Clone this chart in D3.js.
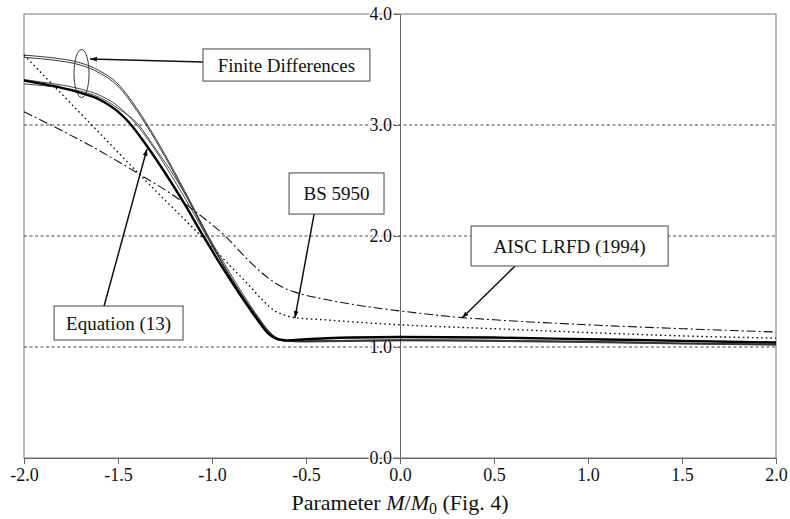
<!DOCTYPE html>
<html lang="en">
<head>
<meta charset="UTF-8">
<title>Chart</title>
<script src="https://cdn.jsdelivr.net/npm/d3@7"></script>
<style>
  body { margin: 0; background: #fff; }
  text { font-family: "Liberation Serif", "Times New Roman", serif; }
</style>
</head>
<body>
<svg id="svg" width="790" height="519"></svg>
<script>
  // tick values
  const xTicks = [-2.0, -1.5, -1.0, -0.5, 0.0, 0.5, 1.0, 1.5, 2.0];
  const yTicks = [0.0, 1.0, 2.0, 3.0, 4.0];
  const gridValues = [1.0, 2.0, 3.0];

  // series, [M/M0, value]
  const equation13 = [[-2.0,3.40],[-1.9,3.37],[-1.8,3.335],[-1.7,3.29],[-1.6,3.23],[-1.5,3.12],[-1.44,3.02],[-1.35,2.82],[-1.25,2.57],[-1.15,2.30],[-1.05,2.01],[-0.95,1.73],[-0.85,1.47],[-0.76,1.25],[-0.70,1.12],[-0.65,1.07],[-0.60,1.06],[-0.50,1.07],[-0.25,1.085],[0.0,1.09],[0.5,1.085],[1.0,1.07],[1.5,1.055],[2.0,1.04]];
  const fdTop1 = [[-2.0,3.63],[-1.9,3.615],[-1.8,3.595],[-1.7,3.56],[-1.6,3.49],[-1.5,3.37],[-1.4,3.15],[-1.3,2.88],[-1.2,2.58],[-1.1,2.26],[-1.0,1.93],[-0.9,1.63],[-0.8,1.37],[-0.74,1.23],[-0.69,1.125],[-0.65,1.075],[-0.60,1.055],[-0.50,1.055],[0.0,1.065],[0.5,1.06],[1.0,1.05],[1.5,1.035],[2.0,1.025]];
  const fdTop2 = [[-2.0,3.61],[-1.9,3.595],[-1.8,3.575],[-1.7,3.54],[-1.6,3.47],[-1.5,3.35],[-1.4,3.13],[-1.3,2.86],[-1.2,2.56],[-1.1,2.24],[-1.0,1.915],[-0.9,1.62],[-0.8,1.36],[-0.74,1.22],[-0.69,1.12],[-0.65,1.07],[-0.60,1.05],[-0.50,1.05],[0.0,1.06],[0.5,1.055],[1.0,1.045],[1.5,1.03],[2.0,1.02]];
  const fdLowA = [[-2.0,3.41],[-1.9,3.385],[-1.8,3.36],[-1.7,3.325],[-1.6,3.27],[-1.5,3.17],[-1.41,3.02],[-1.32,2.82],[-1.24,2.61],[-1.14,2.33],[-1.04,2.03],[-0.94,1.74],[-0.85,1.49],[-0.76,1.26],[-0.70,1.13],[-0.65,1.075],[-0.60,1.055],[-0.50,1.055],[0.0,1.065],[0.5,1.06],[1.0,1.05],[1.5,1.035],[2.0,1.025]];
  const fdLowB = [[-2.0,3.37],[-1.9,3.355],[-1.8,3.335],[-1.7,3.305],[-1.6,3.25],[-1.5,3.15],[-1.39,3.00],[-1.31,2.81],[-1.22,2.59],[-1.12,2.31],[-1.03,2.03],[-0.93,1.74],[-0.84,1.49],[-0.75,1.26],[-0.69,1.13],[-0.64,1.07],[-0.59,1.05],[-0.50,1.045],[0.0,1.055],[0.5,1.05],[1.0,1.04],[1.5,1.027],[2.0,1.017]];
  const bs5950 = [[-2.0,3.63],[-1.8,3.28],[-1.6,2.93],[-1.4,2.58],[-1.2,2.24],[-1.0,1.90],[-0.88,1.69],[-0.80,1.55],[-0.73,1.42],[-0.67,1.33],[-0.62,1.29],[-0.56,1.265],[-0.4,1.245],[-0.2,1.22],[0.0,1.20],[0.5,1.165],[1.0,1.13],[1.5,1.10],[2.0,1.08]];
  const aiscLrfd = [[-2.0,3.12],[-1.8,2.95],[-1.6,2.77],[-1.4,2.57],[-1.2,2.36],[-1.05,2.17],[-0.93,2.00],[-0.8,1.77],[-0.7,1.62],[-0.62,1.535],[-0.55,1.49],[-0.4,1.43],[-0.2,1.37],[0.0,1.325],[0.33,1.265],[0.5,1.245],[1.0,1.20],[1.5,1.165],[2.0,1.135]];

  const svg = d3.select("#svg");
  const width = +svg.attr("width"), height = +svg.attr("height");
  const margin = {top: 14, right: 14, bottom: 61, left: 24};
  const innerWidth = width - margin.left - margin.right;
  const innerHeight = height - margin.top - margin.bottom;
  const serif = '"Liberation Serif", "Times New Roman", serif';

  const g = svg.append("g").attr("transform", `translate(${margin.left}, ${margin.top})`);

  const xScale = d3.scaleLinear().domain([-2, 2]).range([0, innerWidth]);
  const yScale = d3.scaleLinear().domain([0, 4]).range([innerHeight, 0]);

  svg.append("defs").append("marker")
    .attr("id", "arrow")
    .attr("viewBox", "0 0 10 10")
    .attr("refX", 10).attr("refY", 5)
    .attr("markerWidth", 7).attr("markerHeight", 7)
    .attr("markerUnits", "userSpaceOnUse")
    .attr("orient", "auto")
    .append("path").attr("d", "M0,1.5L10,5L0,8.5z").attr("fill", "#111");

  // frame
  g.append("rect")
    .attr("width", innerWidth).attr("height", innerHeight)
    .attr("fill", "none").attr("stroke", "#777").attr("stroke-width", 1);

  // dashed grid
  g.selectAll(".grid").data(gridValues).join("line")
    .attr("class", "grid")
    .attr("x1", 0).attr("x2", innerWidth)
    .attr("y1", d => yScale(d)).attr("y2", d => yScale(d))
    .attr("stroke", "#333").attr("stroke-width", 0.9)
    .attr("stroke-dasharray", "3,2.5");

  const xAxis = d3.axisBottom(xScale).tickValues(xTicks).tickFormat(d3.format(".1f"))
    .tickSize(6).tickSizeOuter(0).tickPadding(4);
  const yAxis = d3.axisLeft(yScale).tickValues(yTicks).tickFormat(d3.format(".1f"))
    .tickSize(6).tickSizeOuter(0).tickPadding(2);

  const gx = g.append("g").attr("transform", `translate(0, ${innerHeight})`).call(xAxis);
  const gy = g.append("g").attr("transform", `translate(${xScale(0)}, 0)`).call(yAxis);
  [gx, gy].forEach(a => {
    a.attr("font-family", serif).attr("font-size", 18);
    a.selectAll("path, line").attr("stroke", "#666");
    a.selectAll("text").attr("fill", "#111").style("font-family", serif).style("font-size", "18px");
  });
  gx.selectAll("text").text(d => d3.format(".1f")(d).replace("−", "-"));
  gy.selectAll("text")
    .attr("stroke", "#fff").attr("stroke-width", 3).attr("paint-order", "stroke");

  // axis title
  const title = g.append("text")
    .attr("x", xScale(0)).attr("y", innerHeight + 52)
    .attr("text-anchor", "middle").attr("font-size", 22).attr("fill", "#111")
    .style("font-family", serif);
  title.append("tspan").text("Parameter ");
  title.append("tspan").attr("font-style", "italic").text("M");
  title.append("tspan").text("/");
  title.append("tspan").attr("font-style", "italic").text("M");
  title.append("tspan").attr("font-size", 16).attr("dy", 4).text("0");
  title.append("tspan").attr("dy", -4).text(" (Fig. 4)");

  const line = d3.line().x(d => xScale(d[0])).y(d => yScale(d[1])).curve(d3.curveMonotoneX);

  const series = [
    {data: aiscLrfd, w: 1.1, dash: "9,3,2,3", color: "#111"},
    {data: bs5950, w: 1.4, dash: "1.6,3", color: "#111"},
    {data: fdTop1, w: 0.9, dash: null, color: "#222"},
    {data: fdTop2, w: 0.9, dash: null, color: "#222"},
    {data: fdLowA, w: 0.9, dash: null, color: "#333"},
    {data: fdLowB, w: 0.9, dash: null, color: "#333"},
    {data: equation13, w: 2.4, dash: null, color: "#000"}
  ];
  g.selectAll(".series").data(series).join("path")
    .attr("class", "series")
    .attr("d", d => line(d.data))
    .attr("fill", "none")
    .attr("stroke", d => d.color)
    .attr("stroke-width", d => d.w)
    .attr("stroke-dasharray", d => d.dash);

  // ellipse around finite difference curves
  g.append("ellipse")
    .attr("cx", xScale(-1.694)).attr("cy", yScale(3.464))
    .attr("rx", xScale(-1.654) - xScale(-1.694)).attr("ry", yScale(3.248) - yScale(3.464))
    .attr("fill", "none").attr("stroke", "#222").attr("stroke-width", 0.9);

  // labels with arrows, positions in data units
  const labels = [
    {text: "Finite Differences", x0: -1.048, x1: -0.160, y0: 3.685, y1: 3.396, from: [-1.048, 3.568], to: [-1.649, 3.595]},
    {text: "BS 5950", x0: -0.590, x1: -0.085, y0: 2.568, y1: 2.198, from: [-0.457, 2.198], to: [-0.559, 1.261]},
    {text: "AISC LRFD (1994)", x0: 0.378, x1: 1.426, y0: 2.090, y1: 1.730, from: [0.612, 1.730], to: [0.330, 1.261]},
    {text: "Equation (13)", x0: -1.840, x1: -1.154, y0: 1.369, y1: 1.063, from: [-1.574, 1.369], to: [-1.346, 2.784]}
  ];
  labels.forEach(l => {
    g.append("line")
      .attr("x1", xScale(l.from[0])).attr("y1", yScale(l.from[1]))
      .attr("x2", xScale(l.to[0])).attr("y2", yScale(l.to[1]))
      .attr("stroke", "#111").attr("stroke-width", 1.5)
      .attr("marker-end", "url(#arrow)");
    g.append("rect")
      .attr("x", xScale(l.x0)).attr("y", yScale(l.y0))
      .attr("width", xScale(l.x1) - xScale(l.x0)).attr("height", yScale(l.y1) - yScale(l.y0))
      .attr("fill", "#fff").attr("stroke", "#444").attr("stroke-width", 1);
    g.append("text")
      .attr("x", (xScale(l.x0) + xScale(l.x1)) / 2)
      .attr("y", (yScale(l.y0) + yScale(l.y1)) / 2)
      .attr("dy", "0.35em")
      .attr("text-anchor", "middle").attr("font-size", 19).attr("fill", "#111")
      .style("font-family", serif)
      .text(l.text);
  });
</script>
</body>
</html>
